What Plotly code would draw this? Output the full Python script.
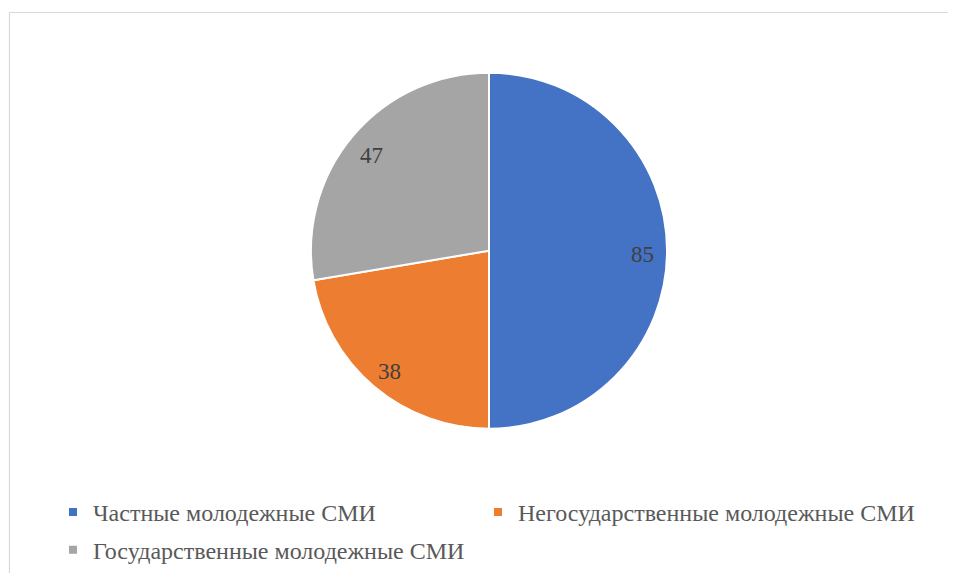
import math
import plotly.graph_objects as go

categories = ["Частные молодежные СМИ", "Негосударственные молодежные СМИ", "Государственные молодежные СМИ"]
values = [85, 38, 47]
colors = ["#4472C4", "#ED7D31", "#A5A5A5"]

# figure size (page adds an 8px body margin around it)
OFF = 8
W, H = 956 - 2 * OFF, 581 - 2 * OFF
cx, cy, R = 489, 252, 179          # pie centre / radius in window pixels
FONT = "Liberation Serif, Times New Roman, serif"

def pxx(px):
    return (px - OFF) / W

def pxy(py):
    return (H - (py - OFF)) / H

fig = go.Figure()
fig.add_trace(go.Pie(
    labels=categories,
    values=values,
    marker=dict(colors=colors, line=dict(color="white", width=2)),
    sort=False,
    direction="clockwise",
    rotation=0,
    textinfo="none",
    hoverinfo="label+value",
    showlegend=False,
    domain=dict(x=[pxx(cx - R), pxx(cx + R)], y=[pxy(cy + R), pxy(cy - R)]),
))

# legend entries: one small legend per entry, laid out as in the reference
legend_ids = ["legend", "legend2", "legend3"]
for name, col, lg in zip(categories, colors, legend_ids):
    fig.add_trace(go.Scatter(
        x=[None], y=[None], mode="markers", name=name,
        marker=dict(symbol="square", size=8, color=col),
        legend=lg, hoverinfo="skip",
    ))

# data labels placed along each slice's mid-angle
total = sum(values)
cum = 0
annotations = []
for v in values:
    mid = (cum + v / 2) / total * 2 * math.pi
    cum += v
    r = 0.86 * R
    annotations.append(dict(
        x=pxx(cx + r * math.sin(mid)), y=pxy(cy - r * math.cos(mid)),
        xref="paper", yref="paper", text=str(v), showarrow=False,
        font=dict(family=FONT, size=23, color="#404040"),
        xanchor="center", yanchor="middle", yshift=-4,
    ))

legend_common = dict(
    orientation="h", xanchor="left", yanchor="middle",
    font=dict(family=FONT, size=24, color="#595959"),
    bgcolor="rgba(0,0,0,0)",
    itemclick=False, itemdoubleclick=False,
)

fig.update_layout(
    width=W, height=H,
    margin=dict(l=0, r=0, t=0, b=0),
    paper_bgcolor="white", plot_bgcolor="white",
    font=dict(family=FONT, color="#595959"),
    xaxis=dict(visible=False), yaxis=dict(visible=False),
    annotations=annotations,
    showlegend=True,
    legend=dict(x=pxx(53), y=pxy(515), **legend_common),
    legend2=dict(x=pxx(478), y=pxy(515), **legend_common),
    legend3=dict(x=pxx(53), y=pxy(553), **legend_common),
    shapes=[dict(
        type="rect", xref="paper", yref="paper",
        x0=pxx(9.5), x1=pxx(1000),
        y0=pxy(650), y1=pxy(12.5),
        line=dict(color="#D9D9D9", width=1.2), fillcolor="rgba(0,0,0,0)",
        layer="below",
    )],
)

fig.write_html("out.html")
